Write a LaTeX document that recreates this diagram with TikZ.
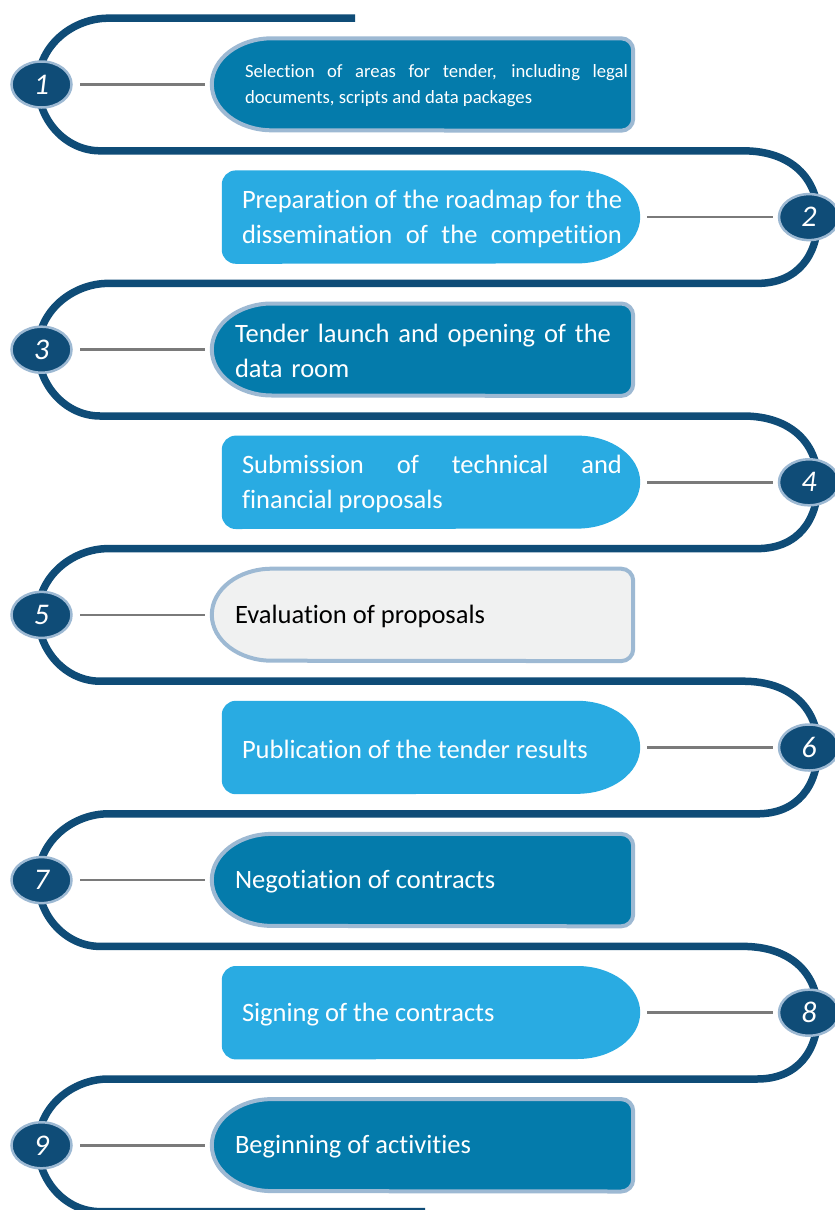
\documentclass[tikz,border=0pt]{standalone}
\usepackage{fontspec}
\setmainfont{Carlito}[Ligatures={NoCommon}]
\usetikzlibrary{shapes.geometric}
\definecolor{navy}{HTML}{0F4C77}
\definecolor{ringc}{HTML}{9DB9D3}
\definecolor{oddfill}{HTML}{047BAB}
\definecolor{evenfill}{HTML}{29ABE2}
\definecolor{greybox}{HTML}{F0F1F1}
\definecolor{connc}{HTML}{7A7A7A}
\tikzset{
  numc/.style={ellipse, draw=ringc, line width=2.5pt, fill=navy, minimum width=60pt, minimum height=46pt, inner sep=0pt, text=white, font=\fontsize{30}{30}\selectfont\itshape},
  boxo/.style={minimum width=421pt, minimum height=92pt, inner sep=0pt},
  boxe/.style={minimum width=418pt, minimum height=93pt, inner sep=0pt},
  txt/.style={anchor=west, inner sep=0pt, yshift=-1.5pt, text=white, font=\fontsize{26.5}{35}\selectfont, text width=380pt, align=justify},
  smalltxt/.style={font=\fontsize{18.7}{26}\selectfont, text width=383pt},
  conn/.style={draw=connc, line width=2.5pt},
  snake/.style={draw=navy, line width=7.5pt},
  leftloop/.style={insert path={.. controls (74,#1-66.3) and (38,#1-40) .. (38,#1) .. controls (38,#1+36) and (66,#1+66.3) .. (100,#1+66.3)}},
  rightloop/.style={insert path={.. controls (792,#1-66.3) and (818,#1-38) .. (818,#1) .. controls (818,#1+38) and (798,#1+66.3) .. (757,#1+66.3)}},
  oddpath/.style={insert path={([xshift=-12pt]#1.north east) -- ([xshift=60pt]#1.north west) arc[start angle=90, end angle=270, x radius=60pt, y radius=46pt] -- ([xshift=-12pt]#1.south east) arc[start angle=270, end angle=360, radius=12pt] -- ([yshift=-12pt]#1.north east) arc[start angle=0, end angle=90, radius=12pt] -- cycle}},
  evenpath/.style={insert path={([xshift=14pt]#1.north west) -- ([xshift=-63pt]#1.north east) arc[start angle=90, end angle=-90, x radius=63pt, y radius=46.5pt] -- ([xshift=14pt]#1.south west) arc[start angle=270, end angle=180, radius=14pt] -- ([yshift=-14pt]#1.north west) arc[start angle=180, end angle=90, radius=14pt] -- cycle}},
}
\begin{document}
\begin{tikzpicture}[x=1pt, y=-1pt]
\useasboundingbox (0,0) rectangle (835,1210);
\clip (0,0) rectangle (835,1210);
\fill[white] (0,0) rectangle (835,1210);

% serpentine path
\draw[snake] (355,18.2) -- (108,18.2) [leftloop=84.5] -- (743,150.8) [rightloop=217.1]
  -- (108,283.4) [leftloop=349.7] -- (743,416) [rightloop=482.3]
  -- (108,548.6) [leftloop=614.9] -- (743,681.2) [rightloop=747.5]
  -- (108,813.8) [leftloop=880.1] -- (743,946.4) [rightloop=1012.7]
  -- (108,1079) [leftloop=1145.3] -- (425,1211.6);

% box placeholders
\node[boxo] (b1) at (422.5,84.5) {};
\node[boxe] (b2) at (431,217.1) {};
\node[boxo] (b3) at (422.5,349.7) {};
\node[boxe] (b4) at (431,482.3) {};
\node[boxo] (b5) at (422.5,614.9) {};
\node[boxe] (b6) at (431,747.5) {};
\node[boxo] (b7) at (422.5,880.1) {};
\node[boxe] (b8) at (431,1012.7) {};
\node[boxo] (b9) at (422.5,1145.3) {};

% box shapes
\path[fill=oddfill, draw=ringc, line width=4pt] [oddpath=b1];
\path[fill=evenfill] [evenpath=b2];
\path[fill=oddfill, draw=ringc, line width=4pt] [oddpath=b3];
\path[fill=evenfill] [evenpath=b4];
\path[fill=greybox, draw=ringc, line width=4pt] [oddpath=b5];
\path[fill=evenfill] [evenpath=b6];
\path[fill=oddfill, draw=ringc, line width=4pt] [oddpath=b7];
\path[fill=evenfill] [evenpath=b8];
\path[fill=oddfill, draw=ringc, line width=4pt] [oddpath=b9];

% texts
\node[txt, smalltxt] (t1) at ([xshift=33pt]b1.west) {Selection of areas for tender, including legal\linebreak documents, scripts and data packages};
\node[txt] (t2) at ([xshift=20pt]b2.west) {Preparation of the roadmap for the\linebreak \makebox[380pt][s]{dissemination of the competition}};
\node[txt, align=left] (t3) at ([xshift=23pt]b3.west) {Tender launch and opening of the\\data room};
\node[txt] (t4) at ([xshift=20pt]b4.west) {Submission of technical and\linebreak financial proposals};
\node[txt, text=black] (t5) at ([xshift=23pt]b5.west) {Evaluation of proposals};
\node[txt] (t6) at ([xshift=20pt]b6.west) {Publication of the tender results};
\node[txt] (t7) at ([xshift=23pt]b7.west) {Negotiation of contracts};
\node[txt] (t8) at ([xshift=20pt]b8.west) {Signing of the contracts};
\node[txt] (t9) at ([xshift=23pt]b9.west) {Beginning of activities};

% number circles
\node[numc] (n1) at (41.5,84.5) {1};
\node[numc] (n2) at (809,217.1) {2};
\node[numc] (n3) at (41.5,349.7) {3};
\node[numc] (n4) at (809,482.3) {4};
\node[numc] (n5) at (41.5,614.9) {5};
\node[numc] (n6) at (809,747.5) {6};
\node[numc] (n7) at (41.5,880.1) {7};
\node[numc] (n8) at (809,1012.7) {8};
\node[numc] (n9) at (41.5,1145.3) {9};

% connectors
\draw[conn, shorten <=7.5pt, shorten >=7pt] (n1) -- (b1.west);
\draw[conn, shorten <=7pt, shorten >=5pt] (b2.east) -- (n2);
\draw[conn, shorten <=7.5pt, shorten >=7pt] (n3) -- (b3.west);
\draw[conn, shorten <=7pt, shorten >=5pt] (b4.east) -- (n4);
\draw[conn, shorten <=7.5pt, shorten >=7pt] (n5) -- (b5.west);
\draw[conn, shorten <=7pt, shorten >=5pt] (b6.east) -- (n6);
\draw[conn, shorten <=7.5pt, shorten >=7pt] (n7) -- (b7.west);
\draw[conn, shorten <=7pt, shorten >=5pt] (b8.east) -- (n8);
\draw[conn, shorten <=7.5pt, shorten >=7pt] (n9) -- (b9.west);
\end{tikzpicture}
\end{document}
